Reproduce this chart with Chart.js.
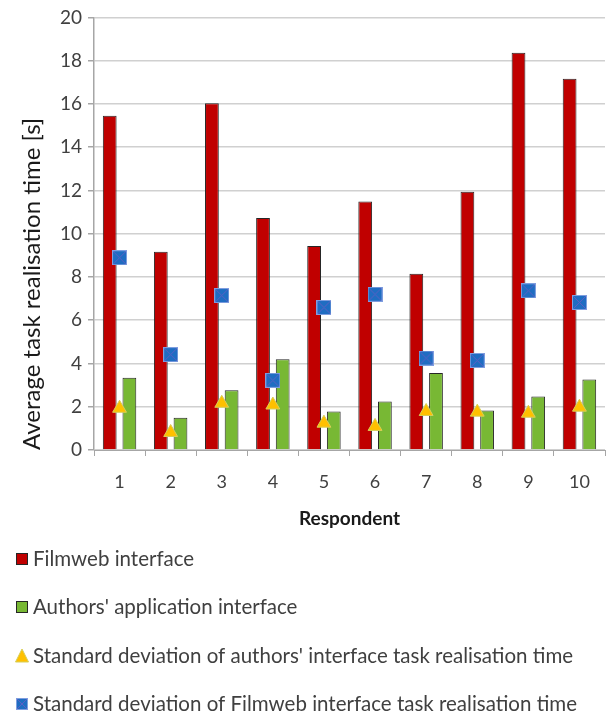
<!DOCTYPE html>
<html>
<head>
<meta charset="utf-8">
<script src="https://cdn.jsdelivr.net/npm/chart.js@4/dist/chart.umd.min.js"></script>
<style>
  html, body { margin: 0; padding: 0; background: #ffffff; }
  #wrap { width: 614px; height: 715px; position: relative; }
</style>
</head>
<body>
<div id="wrap"><canvas id="c" width="614" height="715"></canvas></div>
<script>
// Respondents on the x axis
const respondents = ['1', '2', '3', '4', '5', '6', '7', '8', '9', '10'];

// Average task realisation time [s]
const filmwebTimes = [15.45, 9.17, 16.03, 10.73, 9.43, 11.49, 8.15, 11.94, 18.37, 17.16];
const authorsTimes = [3.34, 1.49, 2.76, 4.20, 1.78, 2.24, 3.56, 1.83, 2.47, 3.26];

// Standard deviations of task realisation time [s]
const authorsStdDev = [1.93, 0.81, 2.16, 2.08, 1.24, 1.09, 1.78, 1.75, 1.70, 1.98];
const filmwebStdDev = [8.89, 4.41, 7.14, 3.22, 6.59, 7.20, 4.25, 4.14, 7.36, 6.82];

// Axis ticks
const yTicks = [0, 2, 4, 6, 8, 10, 12, 14, 16, 18, 20];

const labelsText = {
  filmweb: 'Filmweb interface',
  authors: "Authors' application interface",
  authorsSd: "Standard deviation of authors' interface task realisation time",
  filmwebSd: 'Standard deviation of Filmweb interface task realisation time'
};

const FONT = 'Lato, "Open Sans", sans-serif';
const TEXT = '#404040';

// Blue square marker with a cross drawn through it
function crossSquare(size) {
  const cv = document.createElement('canvas');
  cv.width = size; cv.height = size;
  const g = cv.getContext('2d');
  g.fillStyle = '#1f6dc2';
  g.fillRect(0, 0, size, size);
  g.strokeStyle = '#5b5fc4';
  g.lineWidth = 1;
  g.beginPath();
  g.moveTo(1, 1); g.lineTo(size - 1, size - 1);
  g.moveTo(size - 1, 1); g.lineTo(1, size - 1);
  g.stroke();
  g.strokeStyle = 'rgba(150,170,230,0.8)';
  g.strokeRect(0.5, 0.5, size - 1, size - 1);
  return cv;
}
const squareMarker = crossSquare(15);
const legendSquare = crossSquare(12);

// Legend drawn as a vertical list under the axes
const stackedLegend = {
  id: 'stackedLegend',
  afterDraw(chart) {
    const ctx = chart.ctx;
    const ds = chart.data.datasets;
    const rows = [559, 607, 656, 704];
    ctx.save();
    ctx.font = '20.5px ' + FONT;
    ctx.textBaseline = 'middle';
    ds.forEach((d, i) => {
      const y = rows[i];
      if (d.type === 'bar' || !d.type) {
        ctx.fillStyle = d.backgroundColor;
        ctx.fillRect(16, y - 6, 12, 12);
        ctx.strokeStyle = '#262626';
        ctx.lineWidth = 1;
        ctx.strokeRect(16.5, y - 5.5, 11, 11);
      } else if (d.pointStyle === 'triangle') {
        ctx.fillStyle = d.pointBackgroundColor;
        ctx.beginPath();
        ctx.moveTo(22, y - 7);
        ctx.lineTo(28.5, y + 6);
        ctx.lineTo(15.5, y + 6);
        ctx.closePath();
        ctx.fill();
        ctx.strokeStyle = d.pointBorderColor;
        ctx.stroke();
      } else {
        ctx.drawImage(legendSquare, 16, y - 6);
      }
      ctx.fillStyle = TEXT;
      ctx.textAlign = 'left';
      ctx.fillText(d.label, 33, y);
    });
    ctx.restore();
  }
};

new Chart(document.getElementById('c'), {
  data: {
    labels: respondents,
    datasets: [
      {
        type: 'bar',
        label: labelsText.filmweb,
        data: filmwebTimes,
        backgroundColor: '#c00000',
        borderColor: '#262626',
        borderWidth: 1,
        categoryPercentage: 0.77,
        barPercentage: 0.7,
        order: 2
      },
      {
        type: 'bar',
        label: labelsText.authors,
        data: authorsTimes,
        backgroundColor: '#78b834',
        borderColor: '#262626',
        borderWidth: 1,
        categoryPercentage: 0.77,
        barPercentage: 0.7,
        order: 2
      },
      {
        type: 'line',
        label: labelsText.authorsSd,
        data: authorsStdDev,
        showLine: false,
        pointStyle: 'triangle',
        pointRadius: 8,
        pointBackgroundColor: '#ffc000',
        pointBorderColor: '#d6cf5a',
        pointBorderWidth: 1,
        order: 1
      },
      {
        type: 'line',
        label: labelsText.filmwebSd,
        data: filmwebStdDev,
        showLine: false,
        pointStyle: squareMarker,
        pointRadius: 7,
        order: 0
      }
    ]
  },
  options: {
    responsive: false,
    animation: false,
    devicePixelRatio: 1,
    layout: { padding: { top: 6, right: 0, bottom: 185, left: 0 } },
    plugins: {
      legend: { display: false },
      tooltip: { enabled: false }
    },
    scales: {
      x: {
        offset: true,
        grid: {
          offset: true,
          drawOnChartArea: false,
          drawTicks: true,
          tickLength: 6,
          color: '#a6a6a6'
        },
        border: { color: '#a6a6a6', width: 1 },
        ticks: { color: TEXT, font: { family: FONT, size: 18 }, padding: 15 },
        title: {
          display: true,
          text: 'Respondent',
          color: '#1a1a1a',
          font: { family: FONT, size: 19, weight: 'bold' },
          padding: { top: 8, bottom: 0 }
        },
        afterFit(scale) { scale.height = 80; }
      },
      y: {
        min: 0,
        max: 20,
        afterBuildTicks(scale) { scale.ticks = yTicks.map(v => ({ value: v })); },
        grid: {
          color: '#d0d0d0',
          lineWidth: 1.5,
          drawTicks: true,
          tickLength: 6,
          tickColor: '#a6a6a6'
        },
        border: { color: '#a6a6a6', width: 1.5 },
        ticks: { color: TEXT, font: { family: FONT, size: 19 }, padding: 6 },
        title: {
          display: true,
          align: 'start',
          text: 'Average task realisation time [s]',
          color: '#1a1a1a',
          font: { family: FONT, size: 24 },
          padding: { top: 18, bottom: 0 }
        },
        afterFit(scale) { scale.width = 94; }
      }
    }
  },
  plugins: [stackedLegend]
});
</script>
</body>
</html>
